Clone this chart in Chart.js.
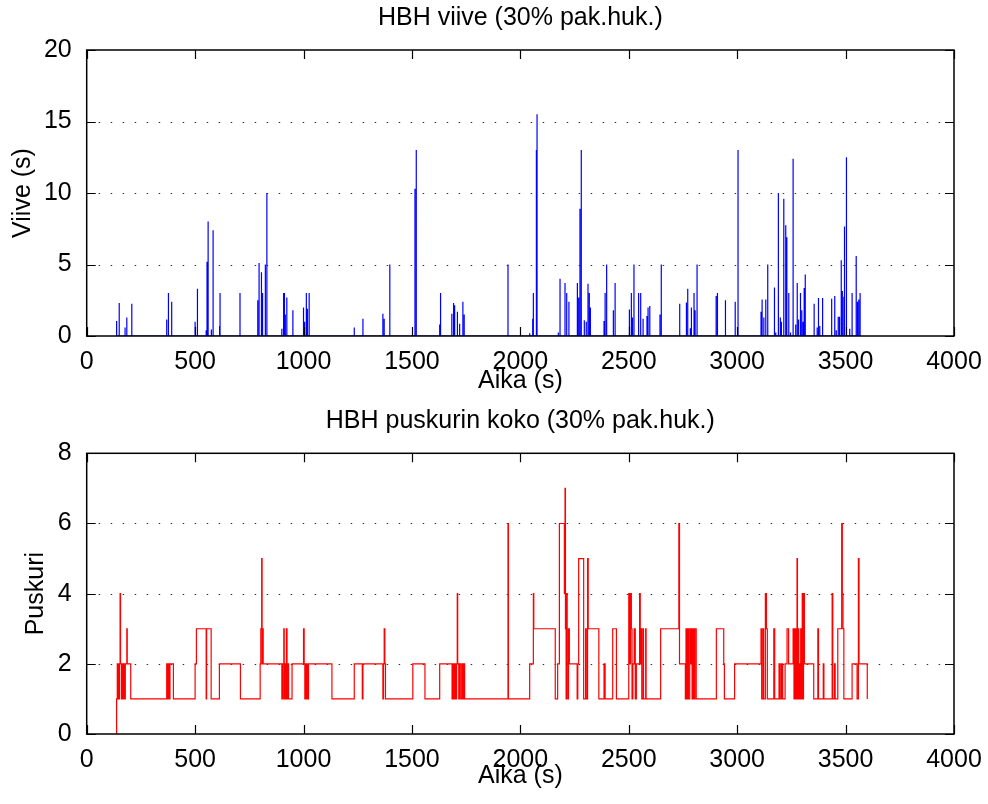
<!DOCTYPE html>
<html>
<head>
<meta charset="utf-8">
<script src="https://cdn.jsdelivr.net/npm/chart.js@4.4.1/dist/chart.umd.min.js"></script>
<style>
html,body{margin:0;padding:0;background:#fff;}
#wrap{position:relative;width:988px;height:804px;}
canvas{position:absolute;left:0;}
#delayChart{top:0;}
#bufferChart{top:400px;}
</style>
</head>
<body>
<div id="wrap">
<canvas id="delayChart" width="988" height="400"></canvas>
<canvas id="bufferChart" width="988" height="404"></canvas>
</div>
<script>
// tick values
const timeTicks=[0,500,1000,1500,2000,2500,3000,3500,4000];
const delayTicks=[0,5,10,15,20];
const bufferTicks=[0,2,4,6,8];

// HBH viive: spike times (s) and delays (s)
const delayTime=[138,150,177,185,208,369,377,392,500,509,512,551,555,560,575,583,613,615,707,
789,795,806,811,824,831,900,908,912,916,923,951,1000,1005,1013,1018,1026,1234,1274,1366,1372,1398,
1514,1520,1628,1632,1684,1692,1697,1708,1711,1720,1735,1741,1943,2043,2057,2060,2074,2077,
2175,2183,2206,2212,2215,2224,2263,2269,2275,2281,2295,2304,2312,2318,2323,2386,2391,2398,2429,2437,
2503,2512,2517,2524,2543,2547,2555,2566,2584,2589,2597,2644,2650,2735,2766,2772,2784,2789,2801,2806,2815,
2903,2909,2946,2991,3004,3110,3115,3123,3132,3141,3172,3178,3190,3199,3204,3215,3224,3229,3238,3246,3258,
3270,3277,3283,3292,3298,3304,3309,3314,3355,3369,3375,3381,3394,3434,3437,3450,3457,3466,3472,3480,3485,
3492,3495,3504,3519,3530,3549,3555,3561,3567];
const delayValue=[1.05,2.3,0.6,1.3,2.25,1.15,3.0,2.4,1.0,1.45,3.3,0.4,5.2,8.0,0.45,7.4,0.7,3.0,3.0,
2.5,5.1,4.45,3.0,5.0,10.0,0.5,3.0,3.0,1.5,2.7,1.8,2.0,1.0,3.0,1.9,3.0,0.6,1.2,1.55,1.2,5.0,
10.3,13.0,0.8,3.0,1.55,2.3,2.15,1.7,0.35,0.85,2.4,1.5,5.0,0.2,1.2,3.0,13.0,15.5,
0.25,4.0,3.7,2.4,3.0,2.4,3.7,2.7,8.9,13.0,1.1,1.0,3.65,3.0,2.0,1.05,3.0,5.0,1.8,3.7,
1.85,3.0,1.3,5.0,0.4,3.0,3.0,1.2,1.4,2.0,2.1,1.5,5.0,2.25,2.35,3.3,0.55,2.0,3.0,1.8,5.0,
2.8,3.0,2.5,2.4,13.0,1.7,2.55,1.3,2.55,5.0,3.4,0.25,10.0,1.3,1.0,9.6,7.75,6.9,3.0,0.25,12.4,
0.8,3.7,1.15,3.0,1.8,1.0,3.35,4.3,2.25,0.6,2.65,0.7,2.65,1.6,2.6,2.8,0.4,1.35,1.35,5.3,3.15,
2.75,7.65,12.5,0.5,3.0,5.6,2.4,2.55,3.0];

// HBH puskurin koko: change times (s) and buffer size from that time on
const bufferTime=[138,138,141,143,146,149,151,154,156,160,163,166,170,175,178,185,187,203,
369,372,375,380,384,400,500,506,551,553,574,612,709,800,803,807,809,812,814,
900,905,909,911,915,918,921,924,927,931,947,1000,1003,1006,1009,1012,1016,1019,1023,1131,1234,1271,1274,
1366,1369,1372,1375,1378,1504,1560,1628,1685,1688,1692,1697,1701,1706,1709,1711,1716,1720,1726,1732,1736,1739,1743,
1943,1945,2043,2060,2062,2161,2172,2180,2203,2206,2208,2211,2213,2216,2219,2222,2226,2262,2265,2269,2292,2301,2304,2310,2313,2362,2386,2391,2426,2443,
2500,2505,2508,2512,2515,2519,2525,2530,2535,2550,2553,2556,2560,2566,2568,2578,2580,2647,2731,2734,
2761,2764,2767,2772,2775,2781,2784,2789,2792,2797,2800,2805,2811,2904,2938,2941,2988,
3110,3113,3119,3122,3130,3135,3139,3169,3173,3193,3195,3201,3203,3208,3210,3221,3230,3237,3258,3262,3266,3271,
3276,3278,3281,3284,3287,3290,3293,3296,3300,3303,3306,3310,3353,3372,3375,3397,3400,3438,3441,3449,3452,3464,3482,3485,3488,3492,
3530,3553,3559,3562,3600];
const bufferValue=[0,1,2,1,2,1,2,4,2,1,2,1,2,1,2,3,2,1,
2,1,2,1,2,1,2,3,1,3,1,2,1,2,3,5,2,3,2,
1,2,3,1,2,1,3,1,2,1,2,3,2,1,2,1,2,1,2,1,2,1,2,
1,2,3,2,1,2,1,2,1,2,1,2,1,2,4,2,1,2,1,2,1,2,1,
6,1,2,4,3,1,2,6,4,7,3,1,4,2,1,3,2,1,2,5,1,3,1,5,3,1,2,1,3,1,
4,2,4,3,1,2,3,1,2,4,2,3,1,3,1,3,1,3,6,2,
1,3,1,3,1,3,2,3,1,3,1,3,1,3,2,1,2,
3,1,3,1,4,3,1,3,1,2,1,2,1,2,1,2,3,2,3,1,3,1,
5,1,3,1,2,1,3,1,4,1,4,2,1,3,1,2,1,4,1,2,1,3,6,4,3,1,
2,1,5,2,1];

Chart.defaults.font.family="'Liberation Sans', Arial, Helvetica, sans-serif";
Chart.defaults.font.size=25;
Chart.defaults.color="#000";

// inward ticks, dotted grid and box like matlab
const matlabFrame={
id:"matlabFrame",
beforeDatasetsDraw(chart){
const {ctx,chartArea:a,scales:{y}}=chart;
ctx.save();
ctx.strokeStyle="#333";ctx.lineWidth=1;ctx.setLineDash([1.5,10.5]);
y.ticks.forEach(t=>{
if(t.value===y.min||t.value===y.max)return;
const py=Math.round(y.getPixelForValue(t.value))+0.5;
ctx.beginPath();ctx.moveTo(a.left,py);ctx.lineTo(a.right,py);ctx.stroke();
});
ctx.restore();
},
afterDraw(chart){
const {ctx,chartArea:a,scales:{x,y}}=chart;
const L=9;
ctx.save();
ctx.strokeStyle="#000";ctx.lineWidth=1.2;
ctx.beginPath();
x.ticks.forEach(t=>{
const px=Math.round(x.getPixelForValue(t.value))+0.5;
ctx.moveTo(px,a.bottom);ctx.lineTo(px,a.bottom-L);
ctx.moveTo(px,a.top);ctx.lineTo(px,a.top+L);
});
y.ticks.forEach(t=>{
const py=Math.round(y.getPixelForValue(t.value))+0.5;
ctx.moveTo(a.left,py);ctx.lineTo(a.left+L,py);
ctx.moveTo(a.right,py);ctx.lineTo(a.right-L,py);
});
ctx.stroke();
ctx.lineWidth=1.5;
ctx.strokeRect(a.left,a.top,a.right-a.left,a.bottom-a.top);
ctx.restore();
}
};

function spikePoints(ts,vs){
const pts=[];
ts.forEach((t,i)=>{pts.push({x:t,y:0},{x:t,y:vs[i]},{x:t,y:0});});
return pts;
}

function makeChart(id,cfg){
return new Chart(document.getElementById(id),{
type:"line",
data:{datasets:[{
data:cfg.points,
borderColor:cfg.color,
borderWidth:1.2,
pointRadius:0,
tension:0,
stepped:cfg.stepped||false
}]},
options:{
responsive:false,
animation:false,
devicePixelRatio:1,
layout:{padding:{left:cfg.padLeft,right:34,top:0,bottom:cfg.padBottom}},
plugins:{
legend:{display:false},
tooltip:{enabled:false},
title:{display:true,text:cfg.title,fullSize:false,color:"#000",
font:{size:25,weight:"normal"},padding:{top:cfg.titleTop,bottom:cfg.titleBottom}}
},
scales:{
x:{type:"linear",min:0,max:4000,
afterBuildTicks:s=>{s.ticks=timeTicks.map(v=>({value:v}));},
afterFit:s=>{s.height=cfg.xHeight;},
grid:{display:false},border:{display:false},
ticks:{padding:3,maxRotation:0,autoSkip:false,callback:v=>String(v)},
title:{display:true,text:"Aika (s)",padding:0,font:{size:25}}
},
y:{min:0,max:cfg.yTicks[cfg.yTicks.length-1],
afterBuildTicks:s=>{s.ticks=cfg.yTicks.map(v=>({value:v}));},
afterFit:s=>{s.width=86.7-cfg.padLeft;},
grid:{display:false},border:{display:false},
ticks:{padding:7,autoSkip:false,callback:v=>String(v)},
title:{display:true,text:cfg.yTitle,padding:0,font:{size:25}}
}
}
},
plugins:[matlabFrame]
});
}

makeChart("delayChart",{
points:spikePoints(delayTime,delayValue),
color:"#0000ff",
title:"HBH viive (30% pak.huk.)",
yTitle:"Viive (s)",
yTicks:delayTicks,
padLeft:8,padBottom:4,xHeight:60,titleTop:3,titleBottom:17
});

makeChart("bufferChart",{
points:bufferTime.map((t,i)=>({x:t,y:bufferValue[i]})),
color:"#ff0000",
stepped:"before",
title:"HBH puskurin koko (30% pak.huk.)",
yTitle:"Puskuri",
yTicks:bufferTicks,
padLeft:21,padBottom:13,xHeight:57,titleTop:6,titleBottom:17.3
});
</script>
</body>
</html>
